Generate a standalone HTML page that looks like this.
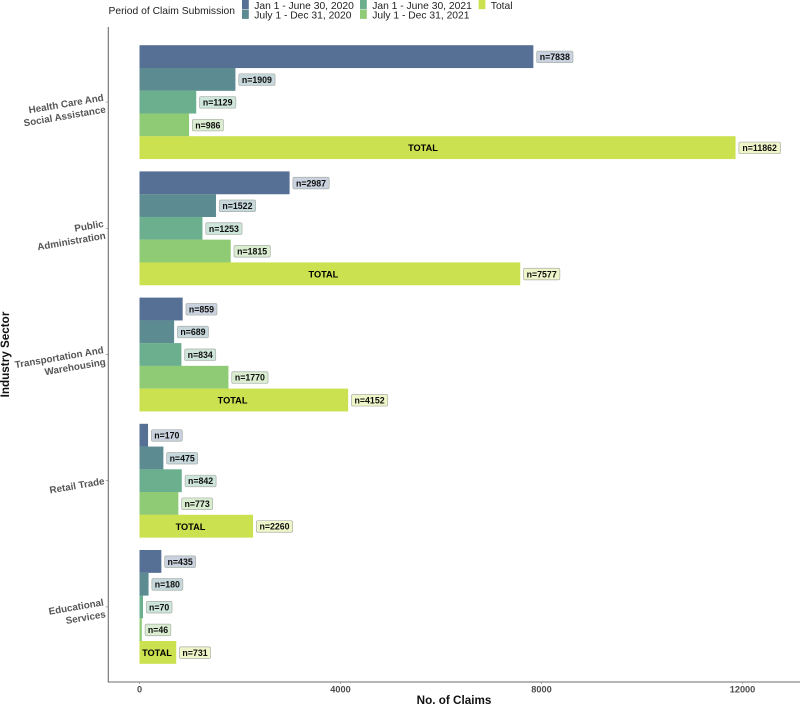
<!DOCTYPE html>
<html>
<head>
<meta charset="utf-8">
<style>
html,body{margin:0;padding:0;background:#fff;}
svg{display:block;font-family:"Liberation Sans",sans-serif;filter:blur(0.3px);}
</style>
</head>
<body>
<svg id="chart" width="800" height="705" viewBox="0 0 800 705" xmlns="http://www.w3.org/2000/svg">
<g id="legend"></g>
<g id="axes"></g>
<g id="bars"></g>
</svg>
<script>
const sectors = [["Health Care And","Social Assistance"],["Public","Administration"],["Transportation And","Warehousing"],["Retail Trade"],["Educational","Services"]];
const periods = ["Jan 1 - June 30, 2020","July 1 - Dec 31, 2020","Jan 1 - June 30, 2021","July 1 - Dec 31, 2021","Total"];
const valuesH1_2020 = [7838,2987,859,170,435];
const valuesH2_2020 = [1909,1522,689,475,180];
const valuesH1_2021 = [1129,1253,834,842,70];
const valuesH2_2021 = [986,1815,1770,773,46];
const valuesTotal = [11862,7577,4152,2260,731];
const xTicks = [0,4000,8000,12000];
const colors = ["#566f95","#5c8c92","#6caf8f","#8fcb74","#cbe14f"];
const labelFills = ["#c9d2de","#c6d8db","#cde5da","#daedd0","#eff5c8"];

const NS = "http://www.w3.org/2000/svg";
const series = [valuesH1_2020,valuesH2_2020,valuesH1_2021,valuesH2_2021,valuesTotal];
const xScale = v => 139.5 + v * 0.05025;
const groupTop = i => 45.2 + i * 126.2;
const barH = 22.75;
const axisX = 108.3, axisBottom = 682, axisTop = 27;

function mk(parent, tag, attrs, text) {
  const el = document.createElementNS(NS, tag);
  for (const k in attrs) el.setAttribute(k, attrs[k]);
  if (text !== undefined) el.textContent = text;
  parent.appendChild(el);
  return el;
}
const legend = document.getElementById("legend");
const axes = document.getElementById("axes");
const bars = document.getElementById("bars");

/* legend */
const lt = mk(legend, "text", {x:108.5, y:14, "font-size":"10.3", fill:"#222"}, "Period of Claim Submission");


const legendCols = [242,242,360,360,478.6];
const legendRows = [0,9.7,0,9.7,0];
periods.forEach((p, i) => {
  const sw = mk(legend, "rect", {x:legendCols[i], y:legendRows[i], width:6.8, height:9.2, fill:colors[i]});
  
  
  const t = mk(legend, "text", {x:legendCols[i]+12.2, y:legendRows[i]+8.8, "font-size":"10.3", fill:"#222"}, p);
  
  
});

/* axes */
const yLine = mk(axes, "line", {x1:axisX, x2:axisX, y1:axisTop, y2:axisBottom, stroke:"#6e6e6e", "stroke-width":1.1});


const xLine = mk(axes, "line", {x1:axisX-0.5, x2:800, y1:axisBottom, y2:axisBottom, stroke:"#6e6e6e", "stroke-width":1.1});


xTicks.forEach(v => {
  const tk = mk(axes, "line", {x1:xScale(v), x2:xScale(v), y1:axisBottom, y2:axisBottom+2, stroke:"#888", "stroke-width":0.7});
  
  
  const t = mk(axes, "text", {x:xScale(v), y:692.6, "text-anchor":"middle", "font-size":"9.2", "font-weight":"bold", fill:"#4d4d4d"}, String(v));
  
  
});
const xTitle = mk(axes, "text", {x:454, y:704, "text-anchor":"middle", "font-size":"11.7", "font-weight":"bold", fill:"#111"}, "No. of Claims");


const yTitle = mk(axes, "text", {transform:"translate(9,354.5) rotate(-90)", "text-anchor":"middle", "font-size":"11.7", "font-weight":"bold", fill:"#111"}, "Industry Sector");



sectors.forEach((lines, i) => {
  const cy = groupTop(i) + barH * 2.5;
  const tk = mk(axes, "line", {x1:axisX-2.5, x2:axisX, y1:cy, y2:cy, stroke:"#888", "stroke-width":0.7});
  
  
  const g = mk(axes, "text", {transform:`translate(104.3,${cy}) rotate(-9.7)`, "text-anchor":"end", "font-size":"9.8", "font-weight":"bold", fill:"#555"});
  
  
  lines.forEach((ln, j) => {
    const off = lines.length === 1 ? 3.5 : (j === 0 ? -1.5 : 10.5);
    mk(g, "tspan", {x:0, y:off}, ln);
  });
});

/* bars */
const totalLabelShare = [0.4756,0.483,0.446,0.449,0.476];
series.forEach((vals, s) => {
  vals.forEach((v, i) => {
    const y = groupTop(i) + s * barH;
    const x0 = xScale(0), x1 = xScale(v);
    const r = mk(bars, "rect", {x:x0, y:y, width:x1 - x0, height:barH + 0.1, fill:colors[s]});
    
    
    const txt = "n=" + v;
    const w = txt.length * 5.3 + 4.5;
    const cy = y + barH / 2 + 0.3;
    const b = mk(bars, "rect", {x:x1 + 3.3, y:cy - 5.8, width:w, height:11.6, rx:1.6, fill:labelFills[s], stroke:"#a9b0a9", "stroke-width":0.7});
    
    
    const t = mk(bars, "text", {x:x1 + 3.3 + w / 2, y:cy + 3.2, "text-anchor":"middle", "font-size":"8.8", "font-weight":"bold", fill:"#111"}, txt);
    
    
    if (s === 4) {
      const tt = mk(bars, "text", {x:xScale(v * totalLabelShare[i]), y:cy + 3.3, "text-anchor":"middle", "font-size":"9.2", "font-weight":"bold", fill:"#000"}, "TOTAL");
      
      
    }
  });
});
</script>
</body>
</html>
